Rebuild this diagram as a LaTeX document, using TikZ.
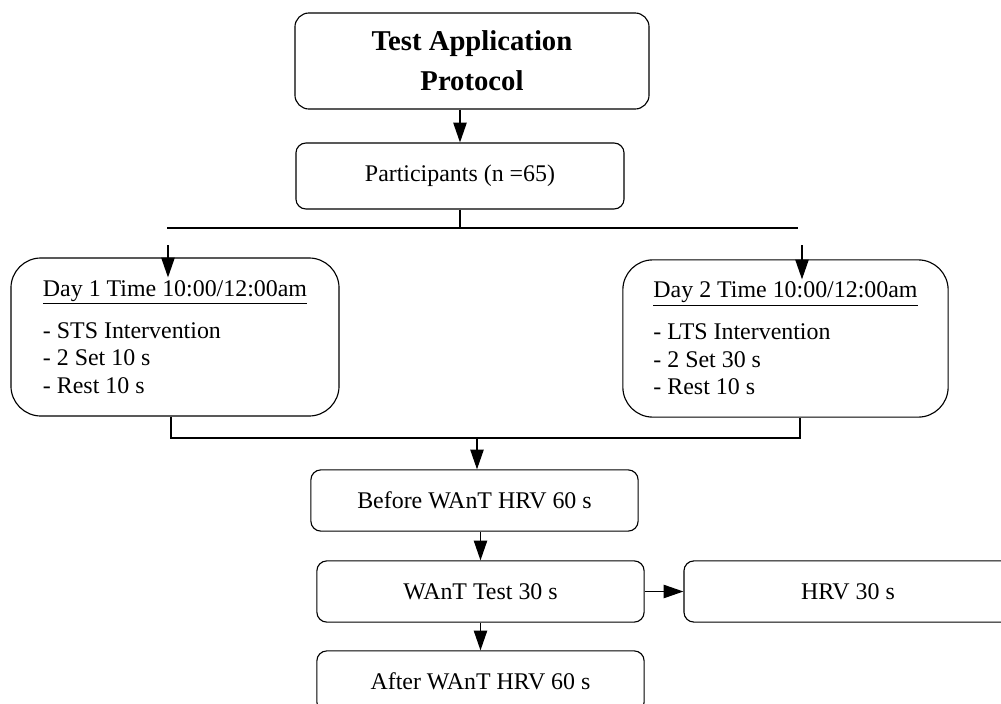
\documentclass[tikz,border=0pt]{standalone}
\usepackage{fontspec}
\setmainfont{Liberation Serif}
\usetikzlibrary{arrows.meta}

\begin{document}
\begin{tikzpicture}[x=0.025cm, y=-0.025cm,
    box/.style={draw, rounded corners=0.25cm, line width=0.8pt, minimum width=8.18cm,
      minimum height=1.53cm, inner sep=0pt, font=\fontsize{17}{20}\selectfont},
    daybox/.style={draw, rounded corners=0.75cm, line width=0.8pt, minimum height=3.95cm,
      align=left, font=\fontsize{17}{19.6}\selectfont},
    arr/.style={-{Triangle[length=14pt,width=9.5pt]}, line width=0.8pt}]
  \useasboundingbox (0,0) rectangle (1001,704);
  \clip (0,0) rectangle (1001,704);

  % Title and participants
  \node[box, rounded corners=0.35cm, minimum width=8.85cm, minimum height=2.4cm, align=center,
    font=\fontsize{20.4}{28.5}\selectfont\bfseries] (title) at (472,61) {Test Application\\Protocol};
  \node[box, minimum width=8.2cm, minimum height=1.65cm] (part) at (460,176) {Participants (n =65)};

  % Intervention days
  \node[daybox, minimum width=8.2cm] (day1) at (175,337)
    {\underline{Day 1 Time 10:00/12:00am}\\[10pt]- STS Intervention\\- 2 Set 10 s\\- Rest 10 s};
  \node[daybox, minimum width=8.13cm, minimum height=3.93cm] (day2) at (785.5,338.5)
    {\underline{Day 2 Time 10:00/12:00am}\\[10pt]- LTS Intervention\\- 2 Set 30 s\\- Rest 10 s};

  % Measurements
  \node[box] (before) at (474.5,500.5) {Before WAnT HRV 60 s};
  \node[box] (want) at (480.5,591.5) {WAnT Test 30 s};
  \node[box, minimum width=8.2cm] (hrv) at (848,591.5) {HRV 30 s};
  \node[box] (after) at (480.5,681.5) {After WAnT HRV 60 s};

  % Split to both days
  \coordinate (split) at (460,228);
  \coordinate (splitL) at (167,228);
  \coordinate (splitR) at (798,228);
  \coordinate (d1in) at (168,245);
  \coordinate (d2in) at (802,245);
  \draw[arr] (title.south -| part.north) -- (part.north);
  \draw[line width=0.8pt] (part.south) -- (split);
  \draw[line width=0.8pt] (splitL) -- (splitR);
  \draw[arr] (d1in) -- ([yshift=-0.5cm]d1in |- day1.north);
  \draw[arr] (d2in) -- ([yshift=-0.5cm]d2in |- day2.north);

  % Join of both days
  \coordinate (joinL) at (171,438);
  \coordinate (joinR) at (800,438);
  \coordinate (join) at (477,438);
  \draw[line width=0.8pt] (joinL |- day1.south) -- (joinL) -- (joinR) -- (joinR |- day2.south);
  \draw[arr] (join) -- (join |- before.north);

  % Test sequence
  \draw[arr] (want.north |- before.south) -- (want.north);
  \draw[arr] (want.east) -- (hrv.west);
  \draw[arr] (want.south) -- (after.north);
\end{tikzpicture}
\end{document}
